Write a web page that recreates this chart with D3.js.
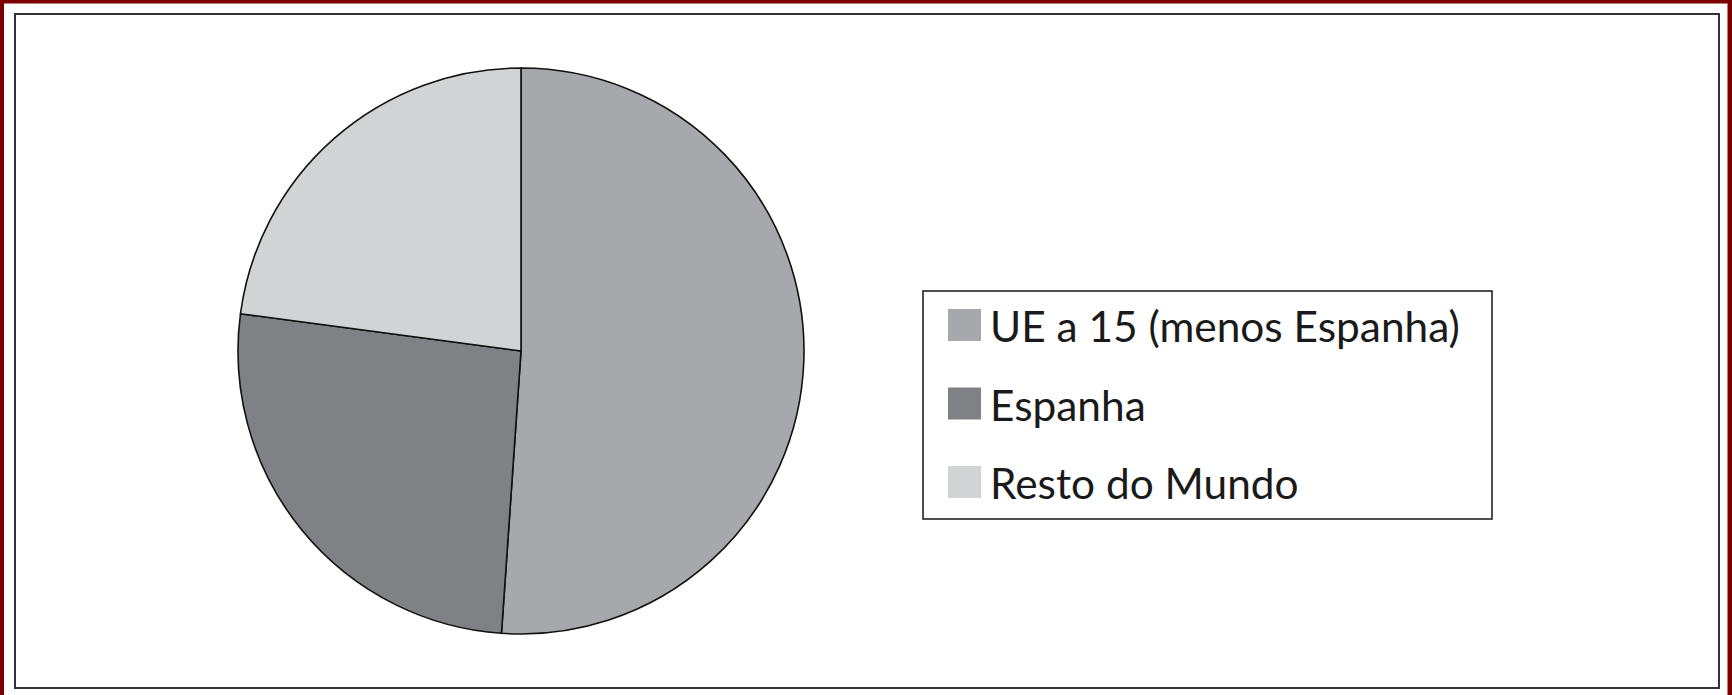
<!DOCTYPE html>
<html>
<head>
<meta charset="utf-8">
<script src="https://cdn.jsdelivr.net/npm/d3@7"></script>
<style>
  html, body { margin: 0; padding: 0; background: #fff; }
  svg { display: block; }
</style>
</head>
<body>
<svg id="chart" width="1732" height="695"></svg>
<script>
// Share of trade by destination (percent)
const categories = ["UE a 15 (menos Espanha)", "Espanha", "Resto do Mundo"];
const values = [51.1, 26.0, 22.9];
const colors = ["#a7a8ab", "#808184", "#d2d3d5"];

const W = 1732, H = 695;
const svg = d3.select("#chart");

// Outer frame: dark red edge on left, top and right
svg.append("rect").attr("x", 0).attr("y", 0).attr("width", W).attr("height", H).attr("fill", "#fff");
svg.append("rect").attr("x", 0).attr("y", 0).attr("width", 4).attr("height", H).attr("fill", "#7b0000");
svg.append("rect").attr("x", 0).attr("y", 0).attr("width", W).attr("height", 3.5).attr("fill", "#7b0000");
svg.append("rect").attr("x", W - 4.5).attr("y", 0).attr("width", 4.5).attr("height", H).attr("fill", "#7b0000");

// Inner panel border
svg.append("rect")
  .attr("x", 15).attr("y", 14)
  .attr("width", 1719 - 15).attr("height", 688 - 14)
  .attr("fill", "none").attr("stroke", "#333").attr("stroke-width", 2);

// Pie
const cx = 521, cy = 351, r = 283;
const pie = d3.pie().sort(null).value(d => d);
const arc = d3.arc().innerRadius(0).outerRadius(r);
const g = svg.append("g").attr("transform", `translate(${cx},${cy})`);
g.selectAll("path")
  .data(pie(values))
  .join("path")
  .attr("d", arc)
  .attr("fill", (d, i) => colors[i])
  .attr("stroke", "#111")
  .attr("stroke-width", 1.6)
  .attr("stroke-linejoin", "round");

// Legend
const lx = 923, ly = 291, lw = 569, lh = 228;
const legend = svg.append("g");
legend.append("rect")
  .attr("x", lx).attr("y", ly).attr("width", lw).attr("height", lh)
  .attr("fill", "#fff").attr("stroke", "#222").attr("stroke-width", 1.6);

const rowY = d3.scalePoint().domain(categories).range([309, 466]);
const items = legend.selectAll("g.item")
  .data(categories)
  .join("g")
  .attr("class", "item")
  .attr("transform", d => `translate(0,${rowY(d)})`);
items.append("rect")
  .attr("x", 948).attr("y", 0).attr("width", 33).attr("height", 32)
  .attr("fill", (d, i) => colors[i]);
items.append("text")
  .attr("x", 990).attr("y", 33)
  .attr("font-family", "Lato, 'Open Sans', sans-serif")
  .attr("font-size", 42.4)
  .attr("fill", "#1a1a1a")
  .text(d => d);
</script>
</body>
</html>
